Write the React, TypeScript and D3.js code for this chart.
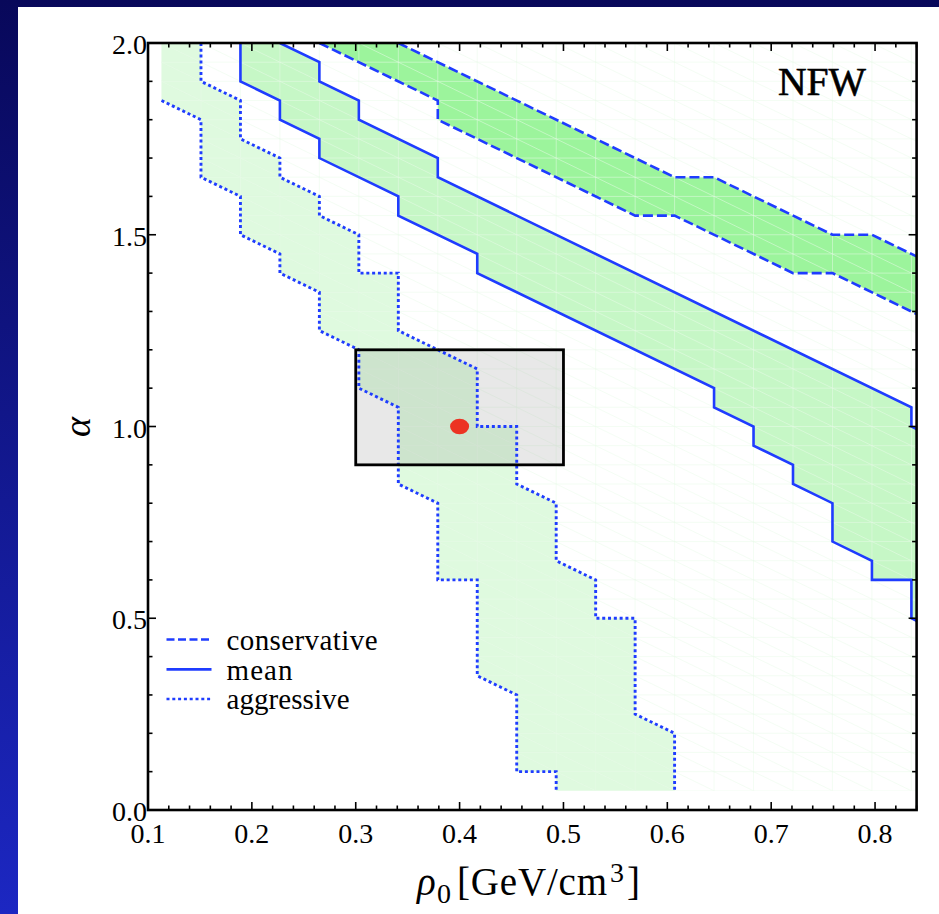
import React from "react";
import * as d3 from "d3";

type Pt = [number, number];

// Contour boundaries in (rho0 [GeV/cm^3], alpha) coordinates.
const aggressiveOuter: Pt[] = [
  [0.113, 1.85], [0.151, 1.8], [0.151, 1.65], [0.189, 1.6], [0.189, 1.5],
  [0.227, 1.45], [0.227, 1.4], [0.265, 1.35], [0.265, 1.25], [0.303, 1.2],
  [0.303, 1.1], [0.341, 1.05], [0.341, 0.85], [0.379, 0.8], [0.379, 0.6],
  [0.417, 0.6], [0.417, 0.35], [0.455, 0.3], [0.455, 0.1], [0.493, 0.1],
  [0.493, 0.05],
];
const aggressiveInner: Pt[] = [
  [0.151, 2.0], [0.151, 1.9], [0.189, 1.85], [0.189, 1.75], [0.227, 1.7],
  [0.227, 1.65], [0.265, 1.6], [0.265, 1.55], [0.303, 1.5], [0.303, 1.4],
  [0.341, 1.4], [0.341, 1.25], [0.379, 1.2], [0.417, 1.15], [0.417, 1.0],
  [0.455, 1.0], [0.455, 0.85], [0.493, 0.8], [0.493, 0.65], [0.531, 0.6],
  [0.531, 0.5], [0.569, 0.5], [0.569, 0.25], [0.607, 0.2], [0.607, 0.05],
];
const meanLower: Pt[] = [
  [0.189, 2.0], [0.189, 1.9], [0.227, 1.85], [0.227, 1.8], [0.265, 1.75],
  [0.265, 1.7], [0.341, 1.6], [0.341, 1.55], [0.417, 1.45], [0.417, 1.4],
  [0.645, 1.1], [0.645, 1.05], [0.683, 1.0], [0.683, 0.95], [0.721, 0.9],
  [0.721, 0.85], [0.759, 0.8], [0.759, 0.7], [0.797, 0.65], [0.797, 0.6],
  [0.835, 0.6], [0.835, 0.5], [0.873, 0.45],
];
const meanUpper: Pt[] = [
  [0.227, 2.0], [0.265, 1.95], [0.265, 1.9], [0.303, 1.85], [0.303, 1.8],
  [0.379, 1.7], [0.379, 1.65], [0.835, 1.05], [0.835, 1.0], [0.873, 0.95],
];
const conservativeLower: Pt[] = [
  [0.265, 2.0], [0.379, 1.85], [0.379, 1.8], [0.569, 1.55], [0.607, 1.55],
  [0.721, 1.4], [0.759, 1.4], [0.835, 1.3], [0.873, 1.25],
];
const conservativeUpper: Pt[] = [
  [0.341, 2.0], [0.607, 1.65], [0.645, 1.65], [0.759, 1.5], [0.797, 1.5],
  [0.835, 1.45], [0.873, 1.4],
];

// Grid columns of the underlying scan (mesh lines).
const meshRho = [
  0.113, 0.151, 0.189, 0.227, 0.265, 0.303, 0.341, 0.379, 0.417, 0.455,
  0.493, 0.531, 0.569, 0.607, 0.645, 0.683, 0.721, 0.759, 0.797, 0.835, 0.873,
];

// Reference box and best-fit point.
const boxRho: [number, number] = [0.3, 0.5];
const boxAlpha: [number, number] = [0.9, 1.2];
const point: Pt = [0.4, 1.0];

const xTicks = [0.1, 0.2, 0.3, 0.4, 0.5, 0.6, 0.7, 0.8];
const yTicks = [0.0, 0.5, 1.0, 1.5, 2.0];
const legendLabels = ["conservative", "mean", "aggressive"];

const W = 939;
const H = 914;
const LEFT = 148;
const RIGHT = 916.6;
const TOP = 43;
const BOTTOM = 810;
const BLUE = "#1f3cff";
const DOTS = "3,2.8";
const DASHES = "10,4";

export default function App() {
  const x = d3.scaleLinear().domain([0.1, 0.84]).range([LEFT, RIGHT]);
  const y = d3.scaleLinear().domain([0, 2]).range([BOTTOM, TOP]);
  const line = d3
    .line<Pt>()
    .x((d) => x(d[0]))
    .y((d) => y(d[1]));
  const poly = (pts: Pt[]) => line(pts) + "Z";

  const aggressiveFill: Pt[] = [[0.113, 2.0], ...aggressiveInner, ...[...aggressiveOuter].reverse()];
  const meanFill: Pt[] = [...meanUpper, ...[...meanLower].reverse()];
  const conservativeFill: Pt[] = [...conservativeUpper, ...[...conservativeLower].reverse()];
  const meshRegion: Pt[] = [[0.113, 2.0], [0.84, 2.0], [0.84, 0.05], ...[...aggressiveOuter].reverse()];

  // Mesh: vertical columns, horizontal rows and cell diagonals.
  const meshAlpha = d3.range(1, 41).map((i) => i * 0.05);
  let mesh = "";
  meshRho.forEach((r) => {
    mesh += `M${x(r)},${y(0.05)}V${y(2.0)}`;
  });
  meshAlpha.forEach((a) => {
    mesh += `M${x(meshRho[0])},${y(a)}H${RIGHT}`;
  });
  for (let k = 0; k < meshRho.length - 1; k++) {
    for (let j = 0; j < meshAlpha.length - 1; j++) {
      mesh += `M${x(meshRho[k])},${y(meshAlpha[j + 1])}L${x(meshRho[k + 1])},${y(meshAlpha[j])}`;
    }
  }

  const xMinor = d3.range(0.1, 0.8401, 0.02);
  const yMinor = d3.range(0, 2.0001, 0.1);

  const font = "'Liberation Serif', 'Times New Roman', serif";

  return (
    <div style={{ position: "fixed", left: 0, top: 0 }}>
      <svg width={W} height={H} style={{ display: "block" }}>
        <defs>
          <linearGradient id="bg" x1="0" y1="0" x2="0" y2="1">
            <stop offset="0" stopColor="#08085a" />
            <stop offset="1" stopColor="#1c27c2" />
          </linearGradient>
          <clipPath id="plotClip">
            <rect x={LEFT} y={TOP} width={RIGHT - LEFT} height={BOTTOM - TOP} />
          </clipPath>
          <clipPath id="meshClip">
            <path d={poly(meshRegion)} />
          </clipPath>
        </defs>

        <rect x={0} y={0} width={W} height={H} fill="url(#bg)" />
        <rect x={18} y={7} width={W - 18} height={H - 7} fill="#ffffff" />

        <g clipPath="url(#plotClip)">
          <path d={poly(aggressiveFill)} fill="#dffadf" />
          <path d={poly(meanFill)} fill="#c6f7c6" />
          <path d={poly(conservativeFill)} fill="#9cf49c" />
          <g clipPath="url(#meshClip)">
            <path d={mesh} fill="none" stroke="#eafbea" strokeWidth={1} opacity={0.5} />
          </g>

          <rect
            x={x(boxRho[0])}
            y={y(boxAlpha[1])}
            width={x(boxRho[1]) - x(boxRho[0])}
            height={y(boxAlpha[0]) - y(boxAlpha[1])}
            fill="#808080"
            fillOpacity={0.18}
          />

          <path d={line(conservativeLower) ?? ""} fill="none" stroke={BLUE} strokeWidth={2.6} strokeDasharray={DASHES} />
          <path d={line(conservativeUpper) ?? ""} fill="none" stroke={BLUE} strokeWidth={2.6} strokeDasharray={DASHES} />
          <path d={line(meanLower) ?? ""} fill="none" stroke={BLUE} strokeWidth={2.6} />
          <path d={line(meanUpper) ?? ""} fill="none" stroke={BLUE} strokeWidth={2.6} />
          <path d={line(aggressiveOuter) ?? ""} fill="none" stroke={BLUE} strokeWidth={2.9} strokeDasharray={DOTS} />
          <path d={line(aggressiveInner) ?? ""} fill="none" stroke={BLUE} strokeWidth={2.9} strokeDasharray={DOTS} />

          <rect
            x={x(boxRho[0])}
            y={y(boxAlpha[1])}
            width={x(boxRho[1]) - x(boxRho[0])}
            height={y(boxAlpha[0]) - y(boxAlpha[1])}
            fill="none"
            stroke="#000"
            strokeWidth={2.8}
          />
          <ellipse cx={x(point[0])} cy={y(point[1])} rx={9.5} ry={7.8} fill="#ec3323" />
        </g>

        {/* frame and ticks on all four sides */}
        <rect x={LEFT} y={TOP} width={RIGHT - LEFT} height={BOTTOM - TOP} fill="none" stroke="#000" strokeWidth={2.6} />
        <g stroke="#000" strokeWidth={1.6}>
          {xMinor.map((v, i) => {
            const major = xTicks.some((t) => Math.abs(t - v) < 1e-6);
            const len = major ? 8 : 4.5;
            return (
              <g key={"x" + i}>
                <line x1={x(v)} x2={x(v)} y1={BOTTOM} y2={BOTTOM - len} />
                <line x1={x(v)} x2={x(v)} y1={TOP} y2={TOP + len} />
              </g>
            );
          })}
          {yMinor.map((v, i) => {
            const major = yTicks.some((t) => Math.abs(t - v) < 1e-6);
            const len = major ? 8 : 4.5;
            return (
              <g key={"y" + i}>
                <line x1={LEFT} x2={LEFT + len} y1={y(v)} y2={y(v)} />
                <line x1={RIGHT} x2={RIGHT - len} y1={y(v)} y2={y(v)} />
              </g>
            );
          })}
        </g>

        <g fontFamily={font} fontSize={28} fill="#000">
          {xTicks.map((t) => (
            <text key={"xl" + t} x={x(t)} y={843} textAnchor="middle">
              {t.toFixed(1)}
            </text>
          ))}
          {yTicks.map((t) => (
            <text key={"yl" + t} x={147} y={y(t) + 11} textAnchor="end">
              {t.toFixed(1)}
            </text>
          ))}
        </g>

        {/* axis titles */}
        <text fontFamily={font} fontSize={39} fill="#000">
          <tspan x={417} y={895} fontStyle="italic">ρ</tspan>
          <tspan x={437} y={903} fontSize={28}>0</tspan>
          <tspan x={457} y={895} textLength={150} lengthAdjust="spacing">[GeV/cm</tspan>
          <tspan x={610} y={882} fontSize={28}>3</tspan>
          <tspan x={627} y={895}>]</tspan>
        </text>
        <text
          fontFamily={font}
          fontSize={38}
          fontStyle="italic"
          fill="#000"
          textAnchor="middle"
          transform="translate(90,427) rotate(-90)"
        >
          α
        </text>

        <text x={778} y={95} fontFamily={font} fontSize={39} fill="#000" stroke="#000" strokeWidth={0.6} textLength={88} lengthAdjust="spacingAndGlyphs">
          NFW
        </text>

        {/* legend */}
        <g fontFamily={font} fontSize={29} fill="#000">
          {legendLabels.map((lab, i) => {
            const ly = [639.5, 669.3, 699][i];
            const dash = ["8,3.5", undefined, DOTS][i];
            const tl = [151, 66, 123][i];
            return (
              <g key={lab}>
                <line x1={166.5} x2={211.5} y1={ly} y2={ly} stroke={BLUE} strokeWidth={2.7} strokeDasharray={dash} />
                <text x={226.5} y={[650, 680, 708.5][i]} textLength={tl} lengthAdjust="spacing">
                  {lab}
                </text>
              </g>
            );
          })}
        </g>
      </svg>
    </div>
  );
}
